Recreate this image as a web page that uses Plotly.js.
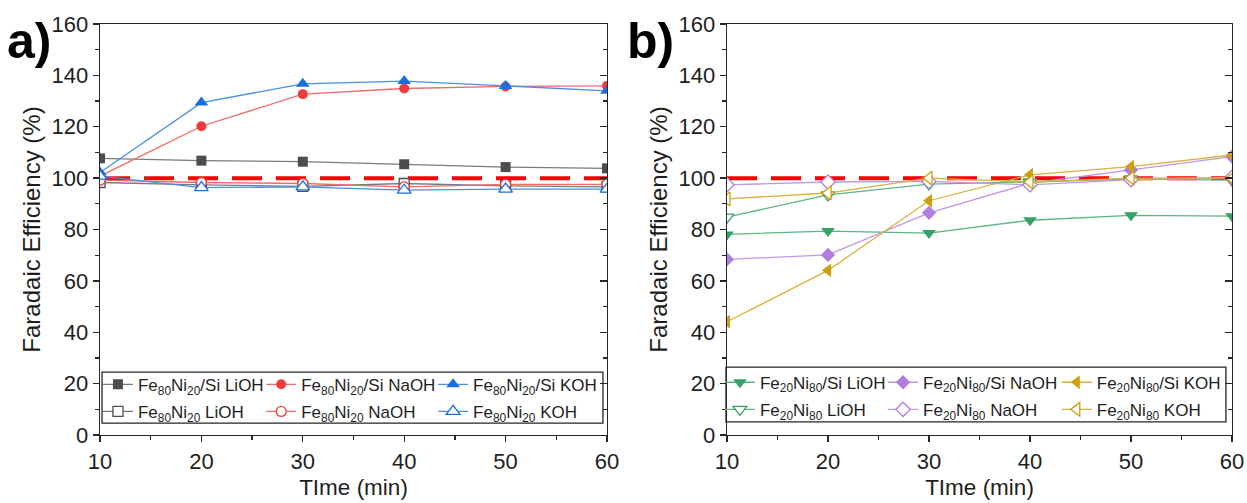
<!DOCTYPE html>
<html>
<head>
<meta charset="utf-8">
<script src="https://cdn.plot.ly/plotly-3.0.1.min.js"></script>
<style>
  html, body { margin: 0; padding: 0; background: #fff; }
  #wrap { position: relative; width: 1247px; height: 503px; overflow: hidden; }
  #panelA { position: absolute; left: 0; top: 0; width: 623px; height: 503px; }
  #panelB { position: absolute; left: 623px; top: 0; width: 624px; height: 503px; }
</style>
</head>
<body>
<div id="wrap">
  <div id="panelA"></div>
  <div id="panelB"></div>
</div>
<script>
// Sampling times (min)
const timeMin = [10, 20, 30, 40, 50, 60];

// Panel a: Fe80Ni20 electrodes, Faradaic efficiency (%)
const fe80SiLiOH  = [107.7, 106.8, 106.4, 105.4, 104.3, 103.8];
const fe80SiNaOH  = [100.8, 120.2, 132.7, 134.9, 135.7, 135.9];
const fe80SiKOH   = [102.2, 129.4, 136.7, 137.8, 135.9, 134.0];
const fe80LiOH    = [98.3, 97.4, 96.8, 97.9, 97.0, 96.6];
const fe80NaOH    = [99.2, 98.3, 97.9, 96.6, 97.6, 97.6];
const fe80KOH     = [100.8, 96.3, 96.6, 95.3, 95.7, 95.7];

// Panel b: Fe20Ni80 electrodes, Faradaic efficiency (%)
const fe20SiLiOH  = [78.1, 79.4, 78.6, 83.6, 85.5, 85.2];
const fe20SiNaOH  = [68.4, 70.1, 86.5, 98.0, 103.2, 108.4];
const fe20SiKOH   = [44.1, 64.1, 91.2, 101.3, 104.5, 109.0];
const fe20LiOH    = [84.8, 93.5, 97.7, 98.5, 99.7, 99.2];
const fe20NaOH    = [97.4, 98.5, 98.7, 97.4, 99.4, 100.3];
const fe20KOH     = [91.9, 94.2, 100.0, 98.5, 100.0, 100.0];

// 100 % reference level
const refX = [10, 60];
const refLevel = 100;

const namesA = [
  'Fe<sub>80</sub>Ni<sub>20</sub>/Si LiOH', 'Fe<sub>80</sub>Ni<sub>20</sub>/Si NaOH', 'Fe<sub>80</sub>Ni<sub>20</sub>/Si KOH',
  'Fe<sub>80</sub>Ni<sub>20</sub> LiOH', 'Fe<sub>80</sub>Ni<sub>20</sub> NaOH', 'Fe<sub>80</sub>Ni<sub>20</sub> KOH'
];
const namesB = [
  'Fe<sub>20</sub>Ni<sub>80</sub>/Si LiOH', 'Fe<sub>20</sub>Ni<sub>80</sub>/Si NaOH', 'Fe<sub>20</sub>Ni<sub>80</sub>/Si KOH',
  'Fe<sub>20</sub>Ni<sub>80</sub> LiOH', 'Fe<sub>20</sub>Ni<sub>80</sub> NaOH', 'Fe<sub>20</sub>Ni<sub>80</sub> KOH'
];

const FONT = 'Liberation Sans, Arial, sans-serif';
const AXIS = '#262626';
const TEXT = '#1e1e1e';

function series(name, y, color, lineColor, symbol, size, open, legendId) {
  return {
    x: timeMin, y: y, name: name, type: 'scatter', mode: 'lines+markers',
    legend: legendId, legendgroup: name,
    line: { color: lineColor, width: 1.3 },
    marker: {
      symbol: symbol, size: size,
      color: open ? '#ffffff' : color,
      line: { color: color, width: open ? 1.3 : 0 }
    }
  };
}

function refTrace() {
  return {
    x: refX, y: [refLevel, refLevel], type: 'scatter', mode: 'lines',
    line: { color: '#ff0000', width: 4, dash: '30px,14px' },
    showlegend: false, hoverinfo: 'skip'
  };
}

// a hidden trace binds the right-hand axis
function frameTrace() {
  return { x: refX, y: [refLevel, refLevel], yaxis: 'y2', mode: 'none', showlegend: false, hoverinfo: 'skip' };
}

function legendCol(x, y) {
  return {
    orientation: 'v', x: x, xanchor: 'left', y: y, yanchor: 'top',
    bgcolor: 'rgba(0,0,0,0)', borderwidth: 0, tracegroupgap: 2,
    font: { family: FONT, size: 17, color: TEXT }, itemwidth: 30
  };
}

function layoutFor(opts) {
  const lay = {
    width: opts.width,
    height: 503,
    margin: { l: opts.l, r: opts.r, t: 24, b: 68, autoexpand: false },
    paper_bgcolor: '#ffffff',
    plot_bgcolor: '#ffffff',
    font: { family: FONT, color: TEXT, size: 22 },
    showlegend: true,
    legend: legendCol(opts.cols[0], opts.legY),
    legend2: legendCol(opts.cols[1], opts.legY),
    legend3: legendCol(opts.cols[2], opts.legY),
    xaxis: {
      range: [10, 60], dtick: 10, tick0: 10,
      showline: true, linecolor: AXIS, linewidth: 1.3, mirror: true,
      ticks: 'outside', ticklen: 6, tickwidth: 1.3, tickcolor: AXIS,
      minor: { dtick: 5, ticks: 'outside', ticklen: 4, tickwidth: 1.3, tickcolor: AXIS },
      showgrid: false, zeroline: false,
      tickfont: { size: 22 },
      title: { text: 'TIme (min)', font: { size: 22.5 }, standoff: 6 }
    },
    yaxis: {
      range: [0, 160], dtick: 20,
      showline: true, linecolor: AXIS, linewidth: 1.3,
      ticks: 'outside', ticklen: 6, tickwidth: 1.3, tickcolor: AXIS,
      minor: { dtick: 10, ticks: 'outside', ticklen: 4, tickwidth: 1.3, tickcolor: AXIS },
      showgrid: false, zeroline: false,
      tickfont: { size: 22 },
      title: { text: 'Faradaic Efficiency (%)', font: { size: 24 }, standoff: 4 }
    },
    // right-hand frame with inward ticks
    yaxis2: {
      overlaying: 'y', side: 'right', range: [0, 160], dtick: 20,
      showline: true, linecolor: AXIS, linewidth: 1.3,
      ticks: 'inside', ticklen: 7, tickwidth: 1.3, tickcolor: AXIS,
      minor: { dtick: 10, ticks: 'inside', ticklen: 4, tickwidth: 1.3, tickcolor: AXIS },
      showticklabels: false, showgrid: false, zeroline: false
    },
    shapes: [{
      type: 'rect', xref: 'paper', yref: 'paper',
      x0: opts.box[0], x1: opts.box[1], y0: opts.box[2], y1: opts.box[3],
      line: { color: AXIS, width: 1.3 }, fillcolor: 'rgba(0,0,0,0)', layer: 'above'
    }],
    annotations: [{
      text: '<b>' + opts.letter + '</b>', xref: 'paper', yref: 'paper',
      x: opts.letterX, y: 0.958, xanchor: 'left', yanchor: 'middle',
      showarrow: false, borderpad: 0, font: { family: FONT, size: 50, color: '#000000' }
    }]
  };
  return lay;
}

const tracesA = [
  frameTrace(),
  refTrace(),
  series(namesA[0], fe80SiLiOH, '#4d4d4d', '#7a7a7a', 'square', 10, false, 'legend'),
  series(namesA[1], fe80SiNaOH, '#f03c3c', '#f26a6a', 'circle', 10, false, 'legend2'),
  series(namesA[2], fe80SiKOH,  '#1a6fe0', '#4a8fe6', 'triangle-up', 12, false, 'legend3'),
  series(namesA[3], fe80LiOH,   '#4d4d4d', '#7a7a7a', 'square', 10, true, 'legend'),
  series(namesA[4], fe80NaOH,   '#f03c3c', '#f26a6a', 'circle', 10, true, 'legend2'),
  series(namesA[5], fe80KOH,    '#1a6fe0', '#4a8fe6', 'triangle-up', 12, true, 'legend3')
];

const tracesB = [
  frameTrace(),
  refTrace(),
  series(namesB[0], fe20SiLiOH, '#35a265', '#5cb684', 'triangle-down', 12, false, 'legend'),
  series(namesB[1], fe20SiNaOH, '#b07de0', '#c197e6', 'diamond', 11, false, 'legend2'),
  series(namesB[2], fe20SiKOH,  '#d19e0c', '#dab03e', 'triangle-left', 12, false, 'legend3'),
  series(namesB[3], fe20LiOH,   '#35a265', '#5cb684', 'triangle-down', 12, true, 'legend'),
  series(namesB[4], fe20NaOH,   '#b07de0', '#c197e6', 'diamond', 11, true, 'legend2'),
  series(namesB[5], fe20KOH,    '#d19e0c', '#dab03e', 'triangle-left', 12, true, 'legend3')
];

const config = { staticPlot: true, displayModeBar: false };

// plot area a: x 100..607 px, y 24..435 px
Plotly.newPlot('panelA', tracesA, layoutFor({
  width: 623, l: 100, r: 16, letter: 'a)', letterX: -0.186,
  cols: [-0.004, 0.318, 0.657], legY: 0.166,
  box: [0.004, 0.992, 0.029, 0.153]
}), config);

// plot area b: x 727..1232 px, y 24..435 px
Plotly.newPlot('panelB', tracesB, layoutFor({
  width: 624, l: 104, r: 15, letter: 'b)', letterX: -0.2,
  cols: [-0.014, 0.309, 0.653], legY: 0.171,
  box: [-0.002, 0.988, 0.032, 0.165]
}), config);
</script>
</body>
</html>
